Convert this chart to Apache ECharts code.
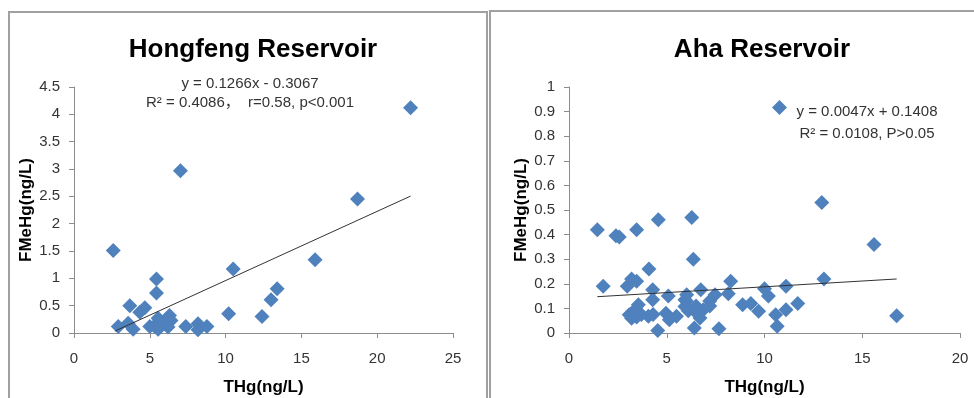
<!DOCTYPE html>
<html>
<head>
<meta charset="utf-8">
<script src="https://cdn.jsdelivr.net/npm/echarts@6/dist/echarts.min.js"></script>
<style>html,body{margin:0;padding:0;background:#fff}#c{width:974px;height:398px}</style>
</head>
<body>
<div id="c"></div>
<script>
// ---- data ----
var hongfengPoints = [
  [22.2,4.12],[7.02,2.97],[18.7,2.45],[2.59,1.51],[15.9,1.34],[10.5,1.17],[5.44,0.99],[5.44,0.73],
  [13.4,0.81],[13.0,0.61],[3.68,0.50],[4.67,0.46],[4.34,0.38],[10.2,0.35],[12.4,0.30],[2.92,0.12],
  [3.57,0.18],[3.9,0.07],[5.0,0.12],[5.3,0.13],[5.55,0.27],[5.77,0.15],[6.0,0.2],[6.3,0.32],
  [6.4,0.23],[6.2,0.11],[5.55,0.07],[7.37,0.12],[8.18,0.17],[8.18,0.06],[8.77,0.12]
];
var hongfengTrend = [[2.7,0.035],[22.2,2.504]];
var ahaPoints = [
  [1.45,0.42],[1.75,0.19],[2.4,0.395],[2.57,0.39],[3.46,0.42],[4.57,0.46],[6.28,0.47],[6.36,0.30],
  [4.09,0.26],[2.98,0.19],[3.2,0.22],[3.46,0.21],[4.28,0.176],[4.28,0.135],[5.08,0.15],[6.02,0.155],
  [6.74,0.176],[7.47,0.155],[7.2,0.13],[8.27,0.21],[8.15,0.16],[8.88,0.115],[9.3,0.12],[9.7,0.088],
  [10.0,0.18],[10.2,0.15],[10.57,0.074],[10.65,0.027],[11.1,0.19],[11.1,0.095],[11.7,0.12],
  [4.54,0.01],[6.41,0.02],[7.67,0.017],
  [3.08,0.074],[3.2,0.06],[3.38,0.095],[3.55,0.115],[3.46,0.065],[3.7,0.075],[4.06,0.068],[4.3,0.075],
  [4.96,0.08],[5.13,0.054],[5.5,0.068],[5.93,0.108],[6.1,0.09],[6.36,0.095],[6.6,0.08],[6.7,0.061],
  [6.87,0.095],[7.2,0.11],[6.5,0.11],[6.0,0.13],[5.93,0.135],
  [12.93,0.53],[15.6,0.36],[13.04,0.22],[16.76,0.07]
];
var ahaTrend = [[1.45,0.1476],[16.76,0.2196]];
var titles = ['Hongfeng Reservoir', 'Aha Reservoir'];
var xName = 'THg(ng/L)';
var yName = 'FMeHg(ng/L)';
var hongfengEq = 'y = 0.1266x - 0.3067\nR\u00b2 = 0.4086\uff0c  r=0.58, p<0.001';
var ahaEq = 'y = 0.0047x + 0.1408\nR\u00b2 = 0.0108, P>0.05';

var FONT = '"Liberation Sans", "Noto Sans CJK SC", sans-serif';
var BLUE = '#4F81BD';
var AX = '#8c8c8c';

function xAxis(idx, max) {
  return {
    type: 'value', gridIndex: idx, min: 0, max: max, interval: 5,
    name: xName, nameLocation: 'middle', nameGap: 46,
    nameTextStyle: { fontFamily: FONT, fontSize: 17, fontWeight: 'bold', color: '#000' },
    axisLine: { show: true, lineStyle: { color: AX, width: 1 } },
    axisTick: { show: true, inside: false, length: 5, lineStyle: { color: AX } },
    axisLabel: { fontFamily: FONT, fontSize: 15, color: '#333', margin: 18 },
    splitLine: { show: false }
  };
}
function yAxis(idx, max, interval, gap) {
  return {
    type: 'value', gridIndex: idx, min: 0, max: max, interval: interval,
    name: yName, nameLocation: 'middle', nameGap: gap, nameRotate: 90,
    nameTextStyle: { fontFamily: FONT, fontSize: 17, fontWeight: 'bold', color: '#000' },
    axisLine: { show: true, lineStyle: { color: AX, width: 1 } },
    axisTick: { show: true, inside: false, length: 5, lineStyle: { color: AX } },
    axisLabel: { fontFamily: FONT, fontSize: 15, color: '#333', margin: 14 },
    splitLine: { show: false }
  };
}

var chart = echarts.init(document.getElementById('c'), null, { renderer: 'canvas' });
chart.setOption({
  animation: false,
  backgroundColor: '#fff',
  title: [
    { text: titles[0], left: 248, top: 32, textAlign: 'center',
      textStyle: { fontFamily: FONT, fontSize: 26, fontWeight: 'bold', color: '#000' } },
    { text: titles[1], left: 757, top: 32, textAlign: 'center',
      textStyle: { fontFamily: FONT, fontSize: 26, fontWeight: 'bold', color: '#000' } }
  ],
  legend: {
    data: ['Aha'], left: 772, top: 100, padding: 0,
    icon: 'diamond', itemWidth: 15, itemHeight: 15,
    formatter: function () { return ''; },
    textStyle: { fontSize: 1 }
  },
  grid: [
    { left: 74, top: 87, width: 379, height: 246, outerBoundsMode: 'none', containLabel: false },
    { left: 569, top: 87, width: 391, height: 246, outerBoundsMode: 'none', containLabel: false }
  ],
  xAxis: [xAxis(0, 25), xAxis(1, 20)],
  yAxis: [yAxis(0, 4.5, 0.5, 22), yAxis(1, 1, 0.1, 22)],
  graphic: [
    { type: 'rect', silent: true, shape: { x: 9, y: 12, width: 478, height: 420 },
      style: { fill: 'none', stroke: '#a0a0a0', lineWidth: 2 } },
    { type: 'rect', silent: true, shape: { x: 490, y: 11, width: 520, height: 420 },
      style: { fill: 'none', stroke: '#a0a0a0', lineWidth: 2 } },
    { type: 'text', silent: true, x: 250, y: 93.5,
      style: { text: hongfengEq, font: '15px ' + FONT, fill: '#333', align: 'center', verticalAlign: 'middle', lineHeight: 19 } },
    { type: 'text', silent: true, x: 867, y: 122.5,
      style: { text: ahaEq, font: '15px ' + FONT, fill: '#333', align: 'center', verticalAlign: 'middle', lineHeight: 22 } }
  ],
  series: [
    { name: 'Hongfeng', type: 'scatter', xAxisIndex: 0, yAxisIndex: 0, symbol: 'diamond', symbolSize: 15,
      itemStyle: { color: BLUE, opacity: 1 }, data: hongfengPoints, z: 3 },
    { name: 'Hongfeng trend', type: 'line', xAxisIndex: 0, yAxisIndex: 0, showSymbol: false, symbol: 'none',
      lineStyle: { color: '#333', width: 1 }, data: hongfengTrend, z: 4 },
    { name: 'Aha', type: 'scatter', xAxisIndex: 1, yAxisIndex: 1, symbol: 'diamond', symbolSize: 15,
      itemStyle: { color: BLUE, opacity: 1 }, data: ahaPoints, z: 3 },
    { name: 'Aha trend', type: 'line', xAxisIndex: 1, yAxisIndex: 1, showSymbol: false, symbol: 'none',
      lineStyle: { color: '#333', width: 1 }, data: ahaTrend, z: 4 }
  ]
});
</script>
</body>
</html>
